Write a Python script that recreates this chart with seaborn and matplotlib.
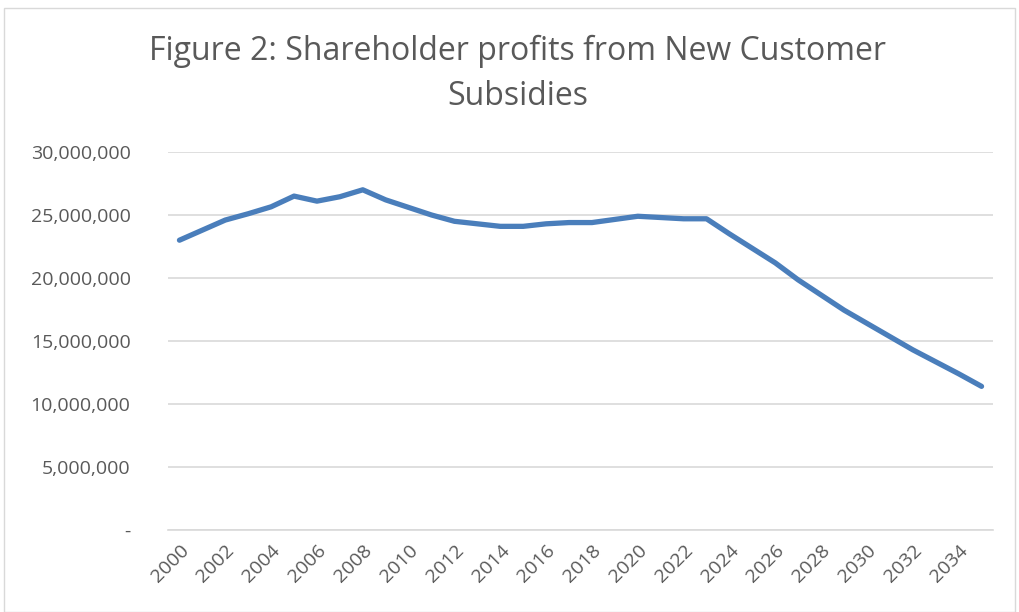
import matplotlib
matplotlib.use("Agg")
import matplotlib.pyplot as plt
import matplotlib.ticker as mticker
import seaborn as sns
import pandas as pd

years = list(range(2000, 2036))
profits = [23.0, 23.8, 24.6, 25.1, 25.65, 26.5, 26.1, 26.45, 27.0, 26.2,
           25.6, 25.0, 24.5, 24.3, 24.1, 24.1, 24.3, 24.4, 24.4, 24.65,
           24.9, 24.8, 24.7, 24.7, 23.5, 22.35, 21.2, 19.85, 18.65, 17.45,
           16.4, 15.35, 14.3, 13.35, 12.4, 11.4]
profits = [v * 1e6 for v in profits]
yticks = [0, 5e6, 10e6, 15e6, 20e6, 25e6, 30e6]
xticks = list(range(2000, 2035, 2))
title = "Figure 2: Shareholder profits from New Customer\nSubsidies"

df = pd.DataFrame({"Year": years, "Profit": profits})

sns.set_theme(style="white")
plt.rcParams['font.family'] = ['Open Sans', 'DejaVu Sans']

fig = plt.figure(figsize=(10.19, 6.12), dpi=100)
ax = fig.add_axes([168/1019, 1 - 530/612, (993-168)/1019, (530-152)/612])

sns.lineplot(data=df, x="Year", y="Profit", ax=ax, color="#4A7EBB", linewidth=3.8,
             solid_capstyle="round", solid_joinstyle="round")

ax.set_xlim(1999.5, 2035.5)
ax.set_ylim(0, 30e6)
ax.set_yticks(yticks)
ax.yaxis.set_major_formatter(mticker.FuncFormatter(lambda v, p: "-" if v == 0 else f"{int(v):,}"))
ax.set_xticks(xticks)
ax.set_xticklabels([str(x) for x in xticks], rotation=45, ha="right", rotation_mode="anchor")
ax.grid(axis="y", color="#D9D9D9", linewidth=1.2)
ax.grid(axis="x", visible=False)
for s in ["top", "right", "left"]:
    ax.spines[s].set_visible(False)
ax.spines["bottom"].set_color("#D9D9D9")
ax.spines["bottom"].set_linewidth(1.2)
ax.tick_params(axis="y", length=0, pad=27, labelsize=14, labelcolor="#595959")
ax.tick_params(axis="x", length=0, pad=8, labelsize=14, labelcolor="#595959")
ax.set_xlabel("")
ax.set_ylabel("")

fig.text(0.508, 1 - 74/612, title, ha="center", va="center", fontsize=23,
         color="#595959", linespacing=1.45)

# chart frame
fig.patches.append(plt.Rectangle((4/1019, 0), 1 - 8/1019, 1 - 8/612, transform=fig.transFigure,
                                 fill=False, edgecolor="#D9D9D9", linewidth=1))

fig.savefig("out.png", dpi=100, facecolor="white")
